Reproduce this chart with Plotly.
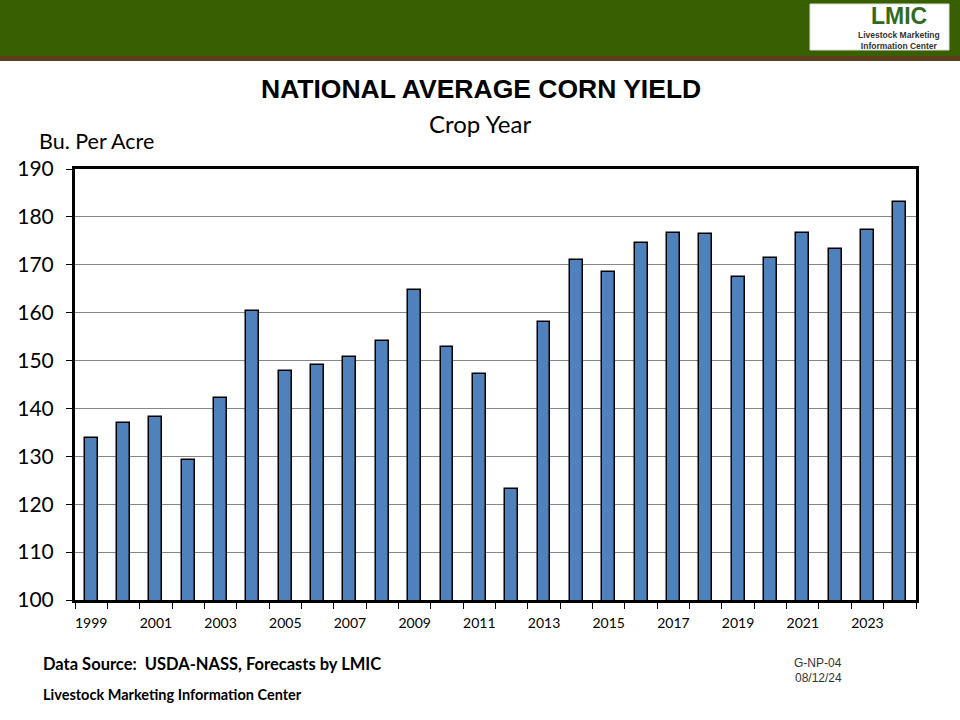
import plotly.graph_objects as go

years = list(range(1999, 2025))
yields = [133.8, 136.9, 138.2, 129.3, 142.2, 160.4, 147.9, 149.1, 150.7, 154.0,
          164.7, 152.8, 147.2, 123.1, 158.1, 171.0, 168.4, 174.6, 176.6, 176.4,
          167.5, 171.4, 176.7, 173.3, 177.3, 183.1]
label_years = [y for y in years if y % 2 == 1]
y_ticks = list(range(100, 191, 10))

W, H = 960, 720
def px(x): return x / W
def py(y): return 1 - y / H

fig = go.Figure()
fig.add_trace(go.Bar(
    x=years, y=yields, width=0.4,
    marker=dict(color="#4F81BD", line=dict(color="#000000", width=1.5)),
    hoverinfo="x+y",
))

fig.update_layout(
    width=W, height=H,
    margin=dict(l=0, r=0, t=0, b=0, pad=0, autoexpand=False),
    paper_bgcolor="white", plot_bgcolor="white",
    showlegend=False,
    bargap=0,
    xaxis=dict(
        domain=[px(75), px(916)],
        range=[1998.5, 2024.5],
        tickmode="array", tickvals=label_years,
        ticktext=[str(y) for y in label_years],
        ticks="", showgrid=False, zeroline=False, automargin=False,
        ticklabelstandoff=8,
        showline=True, linecolor="black", linewidth=3, mirror=True,
        tickfont=dict(family="Lato, Arial", size=14, color="black"),
        minor=dict(tickmode="array", tickvals=[y - 0.5 for y in years] + [2024.5],
                   ticks="outside", ticklen=6, tickcolor="black", tickwidth=1,
                   showgrid=False),
        fixedrange=True,
    ),
    yaxis=dict(
        domain=[py(600), py(169)],
        range=[100, 190],
        tickmode="array", tickvals=y_ticks,
        ticks="outside", ticklen=6, tickcolor="black", tickwidth=1,
        ticklabelstandoff=8,
        showgrid=True, gridcolor="#868686", gridwidth=1,
        zeroline=False, automargin=False,
        showline=True, linecolor="black", linewidth=3, mirror=True,
        tickfont=dict(family="Lato, Arial", size=21, color="black"),
        fixedrange=True,
    ),
)

shapes = [
    dict(type="rect", xref="paper", yref="paper", x0=0, x1=1, y0=py(56), y1=1,
         fillcolor="#386000", line=dict(width=0), layer="below"),
    dict(type="rect", xref="paper", yref="paper", x0=0, x1=1, y0=py(61), y1=py(56),
         fillcolor="#5C3D1E", line=dict(width=0), layer="below"),
    dict(type="rect", xref="paper", yref="paper", x0=px(810), x1=px(949), y0=py(50), y1=py(4),
         fillcolor="white", line=dict(color="#DDDDDD", width=1), layer="above"),
]
fig.update_layout(shapes=shapes)

def txt(x, y, text, size, bold=False, family="Lato, Arial", color="black", xanchor="left"):
    fig.add_annotation(xref="paper", yref="paper", x=px(x), y=py(y), text=f"<b>{text}</b>" if bold else text,
                       showarrow=False, xanchor=xanchor, yanchor="middle",
                       font=dict(family=family, size=size, color=color))

txt(481, 89, "NATIONAL AVERAGE CORN YIELD", 26.5, bold=True, family="Liberation Sans, Arial", xanchor="center")
txt(480, 123, "Crop Year", 24, xanchor="center")
txt(37, 141, "Bu. Per Acre", 21.5)
txt(41, 664, "Data Source:  USDA-NASS, Forecasts by LMIC", 16.5, bold=True)
txt(41, 694, "Livestock Marketing Information Center", 14.5, bold=True)
txt(818, 663, "G-NP-04", 12, family="Liberation Sans, Arial", color="#333333", xanchor="center")
txt(818, 678, "08/12/24", 12, family="Liberation Sans, Arial", color="#333333", xanchor="center")
# logo text
txt(899, 16, "LMIC", 23, bold=True, family="Liberation Sans, Arial", color="#2F6B1E", xanchor="center")
txt(899, 40, "Livestock Marketing<br>Information Center", 8.5, bold=True,
    family="Liberation Sans, Arial", color="#333333", xanchor="center")

fig.write_html("out.html", config={"displayModeBar": False},
               post_script="document.body.style.margin='0';document.body.style.overflow='hidden';")
